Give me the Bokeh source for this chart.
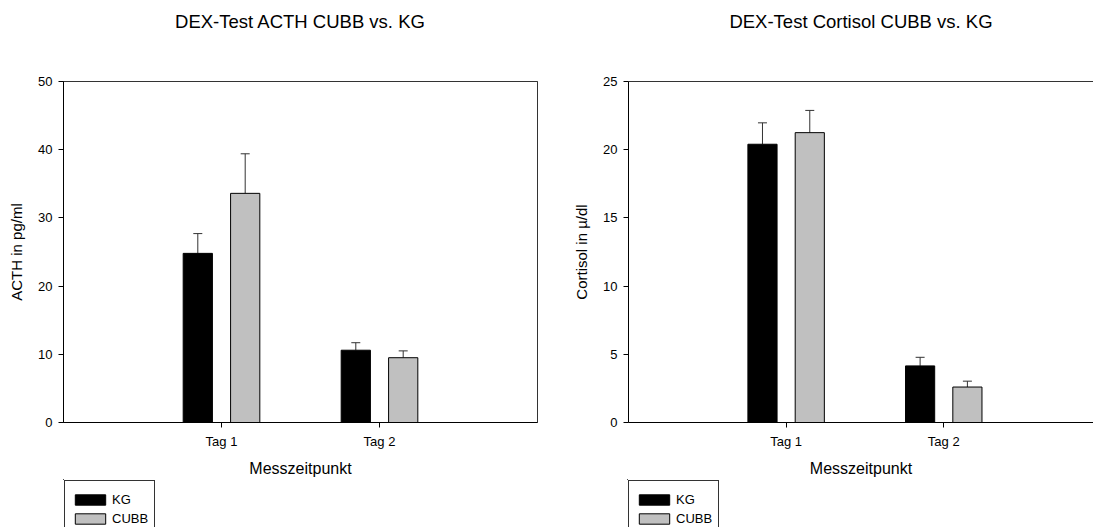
from bokeh.plotting import figure
from bokeh.models import (Range1d, FixedTicker, Whisker, TeeHead, ColumnDataSource,
                          Legend, LegendItem, LinearAxis)
from bokeh.layouts import row, column
from bokeh.embed import file_html
from bokeh.resources import INLINE

# ---- data ----
categories = ["Tag 1", "Tag 2"]
positions = [1, 2]
groups = ["KG", "CUBB"]
group_fill = ["black", "#c0c0c0"]

acth_kg = [24.8, 10.6]
acth_kg_err = [2.9, 1.1]
acth_cubb = [33.6, 9.5]
acth_cubb_err = [5.8, 1.0]

cort_kg = [20.4, 4.15]
cort_kg_err = [1.57, 0.63]
cort_cubb = [21.25, 2.6]
cort_cubb_err = [1.63, 0.43]

FONT = "Liberation Sans"
AX = "#333333"


def make_panel(title, ylabel, kg, kg_err, cubb, cubb_err, ymax, ystep,
               width, x_end, mbl, mbr, full_box):
    p = figure(width=width, height=479, output_backend="svg", toolbar_location=None,
               x_range=Range1d(0, x_end), y_range=Range1d(0, ymax),
               min_border_left=mbl, min_border_right=mbr,
               min_border_top=81, min_border_bottom=57)
    p.title.visible = False
    p.xgrid.visible = False
    p.ygrid.visible = False
    xa = p.below[0]
    ya = p.left[0]
    p.outline_line_color = AX if full_box else None
    # top edge line, carrying the chart title as its label
    top = LinearAxis(ticker=FixedTicker(ticks=[]), major_label_text_font_size="0px",
                     major_tick_out=0, major_tick_in=0, minor_tick_out=0, minor_tick_in=0,
                     major_label_standoff=0, axis_line_color=AX,
                     axis_label=title, axis_label_text_font=FONT,
                     axis_label_text_font_size="18.5px", axis_label_text_font_style="normal",
                     axis_label_text_color="black", axis_label_standoff=50)
    p.add_layout(top, "above")

    off = 0.15
    bw = 0.185
    xk = [x - off for x in positions]
    xc = [x + off for x in positions]
    p.vbar(x=xk, top=kg, width=bw, bottom=0, fill_color=group_fill[0], line_color="black")
    p.vbar(x=xc, top=cubb, width=bw, bottom=0, fill_color=group_fill[1], line_color="black")

    for xs, vals, errs in ((xk, kg, kg_err), (xc, cubb, cubb_err)):
        src = ColumnDataSource(dict(x=xs, lower=vals, upper=[v + e for v, e in zip(vals, errs)]))
        w = Whisker(source=src, base="x", upper="upper", lower="lower", dimension="height",
                    line_color=AX, line_width=1,
                    upper_head=TeeHead(size=9, line_color=AX, line_width=1), lower_head=None)
        p.add_layout(w)

    xa.ticker = FixedTicker(ticks=positions)
    xa.major_label_overrides = {pos: lab for pos, lab in zip(positions, categories)}
    xa.axis_label = "Messzeitpunkt"
    ya.ticker = FixedTicker(ticks=list(range(0, ymax + 1, ystep)))
    ya.axis_label = ylabel
    for a in (xa, ya):
        a.axis_line_color = "black"
        a.major_tick_line_color = "black"
        a.major_tick_out = 5
        a.major_tick_in = 0
        a.minor_tick_out = 0
        a.minor_tick_in = 0
        a.major_label_text_font = FONT
        a.major_label_text_font_size = "13px"
        a.major_label_text_color = "black"
        a.axis_label_text_font = FONT
        a.axis_label_text_font_style = "normal"
        a.axis_label_text_color = "black"
        a.major_label_standoff = 6
    xa.axis_label_text_font_size = "16px"
    ya.axis_label_text_font_size = "15px"
    xa.axis_label_standoff = 8
    ya.axis_label_standoff = 10
    return p


def make_legend(width, mbl, mbr, kg, cubb):
    # the bars lie outside this strip's view; only their legend swatches show
    l = figure(width=width, height=48, output_backend="svg", toolbar_location=None,
               x_range=Range1d(10, 11), y_range=Range1d(-2, -1),
               min_border_left=mbl, min_border_right=mbr,
               min_border_top=0, min_border_bottom=0)
    l.axis.visible = False
    l.xgrid.visible = False
    l.ygrid.visible = False
    l.outline_line_color = None
    rs = []
    for vals, c in zip((kg, cubb), group_fill):
        src = ColumnDataSource(dict(x=positions, top=vals))
        rs.append(l.vbar(x="x", top="top", bottom=0, width=0.1, source=src, fill_color=c,
                         line_color="black"))
    legend = Legend(items=[LegendItem(label=g, renderers=[r]) for g, r in zip(groups, rs)],
                    location="top_left", orientation="vertical",
                    title=" ", title_text_font_size="3px", title_standoff=1,
                    padding=6, spacing=4, label_height=13, glyph_height=13, glyph_width=38,
                    label_standoff=3, border_line_color=AX, border_line_alpha=1,
                    background_fill_alpha=1, label_text_font=FONT,
                    label_text_color="black",
                    label_text_font_size="13px", margin=1)
    l.add_layout(legend, "center")
    return l


p1 = make_panel("DEX-Test ACTH CUBB vs. KG", "ACTH in pg/ml",
                acth_kg, acth_kg_err, acth_cubb, acth_cubb_err, 50, 10,
                570, 3.0, 63, 33, True)
p2 = make_panel("DEX-Test Cortisol CUBB vs. KG", "Cortisol in \u00b5/dl",
                cort_kg, cort_kg_err, cort_cubb, cort_cubb_err, 25, 5,
                523, 2.95, 57, 0, False)
l1 = make_legend(570, 63, 33, acth_kg, acth_cubb)
l2 = make_legend(523, 57, 0, cort_kg, cort_cubb)

layout = column(row(p1, p2), row(l1, l2))
open("out.html", "w").write(file_html(layout, INLINE))
